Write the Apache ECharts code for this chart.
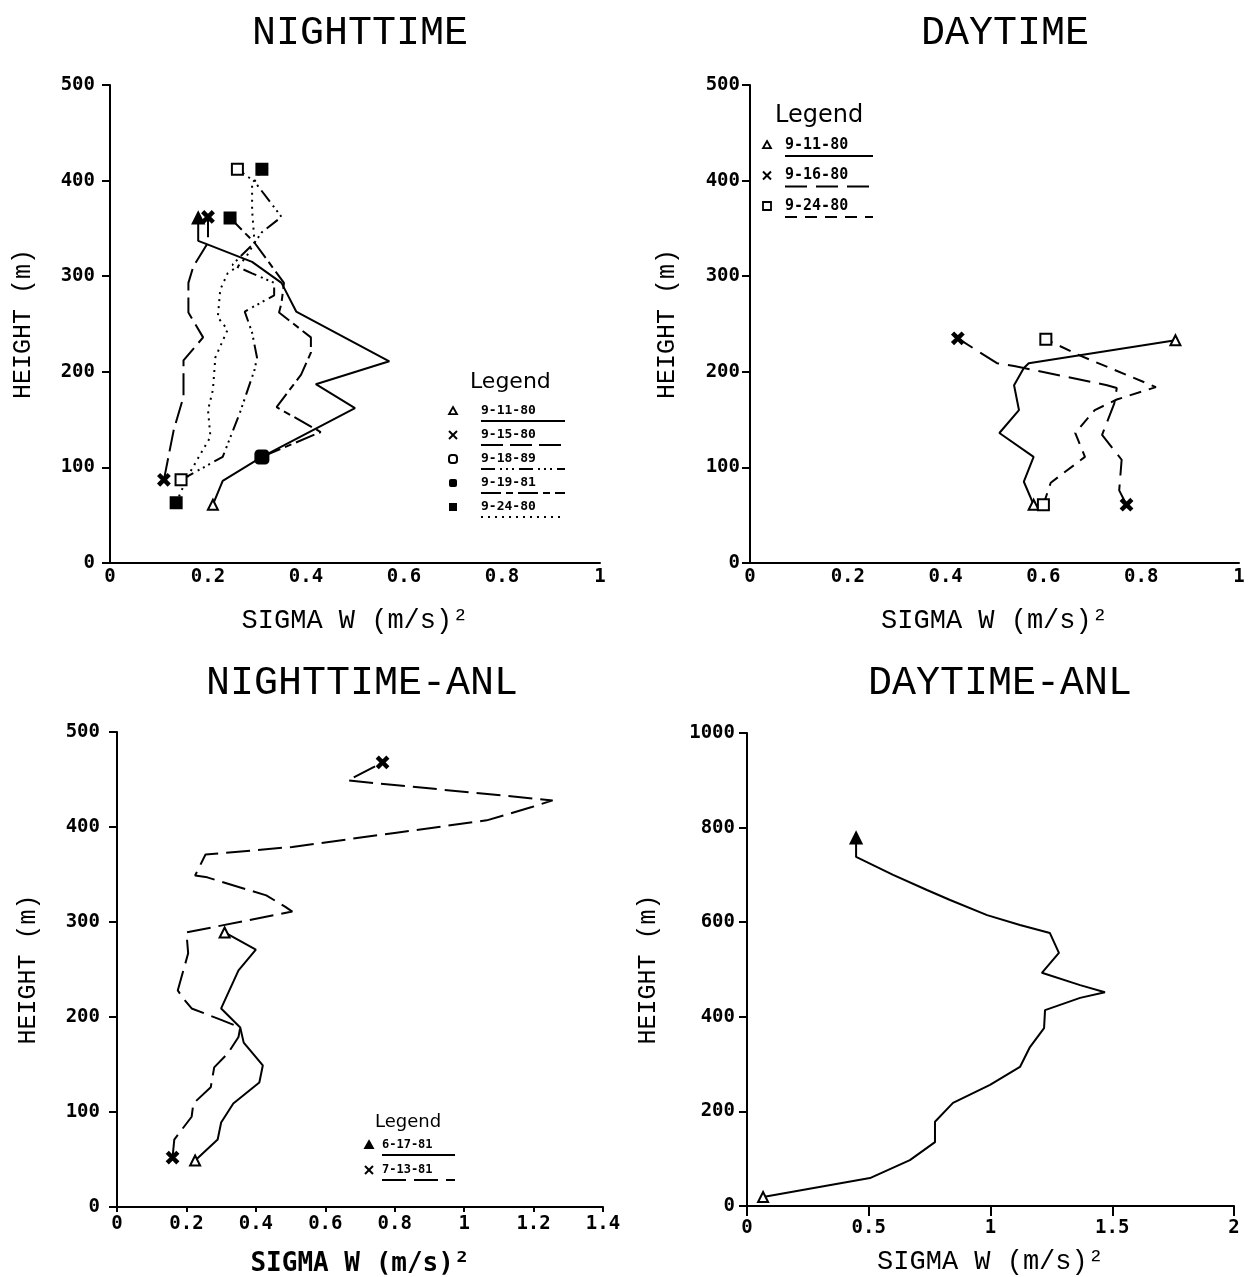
<!DOCTYPE html>
<html>
<head>
<meta charset="utf-8">
<script src="https://cdn.jsdelivr.net/npm/echarts@6/dist/echarts.min.js"></script>
<style>
html, body { margin: 0; padding: 0; background: #fff; }
#chart { width: 1253px; height: 1277px; }
</style>
</head>
<body>
<div id="chart"></div>
<script>
// ---------- NIGHTTIME profiles (sigma w, height in m), listed bottom to top ----------
const night0911Sigma = [0.21, 0.23, 0.31, 0.50, 0.42, 0.57, 0.38, 0.35, 0.29, 0.20, 0.18, 0.18];
const night0911Height = [61, 86, 111, 162, 187, 211, 263, 293, 315, 333, 337, 361];

const night0915Sigma = [0.11, 0.13, 0.15, 0.15, 0.19, 0.16, 0.16, 0.17, 0.20, 0.20];
const night0915Height = [87, 139, 174, 212, 236, 262, 293, 310, 335, 362];

const night0918Sigma = [0.145, 0.23, 0.265, 0.295, 0.30, 0.29, 0.275, 0.335, 0.335, 0.29, 0.25, 0.265, 0.295, 0.31, 0.35, 0.295, 0.26];
const night0918Height = [87, 111, 157, 202, 215, 241, 263, 280, 293, 303, 312, 320, 335, 346, 362, 399, 412];

const night0919Sigma = [0.31, 0.43, 0.34, 0.39, 0.41, 0.41, 0.345, 0.35, 0.355, 0.295, 0.245];
const night0919Height = [111, 137, 163, 197, 220, 236, 262, 272, 293, 335, 361];

const night0924Sigma = [0.135, 0.16, 0.205, 0.20, 0.21, 0.215, 0.24, 0.22, 0.225, 0.24, 0.265, 0.28, 0.295, 0.29, 0.29, 0.31];
const night0924Height = [63, 92, 132, 160, 181, 215, 244, 257, 286, 303, 312, 322, 335, 369, 395, 412];

// ---------- DAYTIME profiles ----------
const day0911Sigma = [0.58, 0.56, 0.58, 0.51, 0.55, 0.54, 0.56, 0.57, 0.87];
const day0911Height = [61, 85, 111, 136, 160, 186, 204, 209, 233];

const day0916Sigma = [0.77, 0.755, 0.76, 0.72, 0.745, 0.75, 0.73, 0.56, 0.54, 0.505, 0.425];
const day0916Height = [61, 76, 108, 134, 167, 183, 186, 204, 206, 209, 235];

const day0924Sigma = [0.60, 0.615, 0.685, 0.665, 0.705, 0.75, 0.83, 0.67, 0.605];
const day0924Height = [61, 84, 111, 136, 160, 171, 184, 218, 234];

// ---------- NIGHTTIME-ANL profiles ----------
const anlNight0617Sigma = [0.225, 0.29, 0.30, 0.335, 0.41, 0.42, 0.365, 0.355, 0.30, 0.35, 0.40, 0.31];
const anlNight0617Height = [49, 71, 89, 109, 131, 149, 173, 189, 209, 249, 271, 289];

const anlNight0713Sigma = [0.16, 0.165, 0.215, 0.22, 0.27, 0.28, 0.32, 0.35, 0.355, 0.30, 0.215, 0.19, 0.175, 0.205, 0.20, 0.505, 0.485, 0.43, 0.26, 0.225, 0.255, 0.505, 0.805, 1.065, 1.195, 1.255, 0.665, 0.765];
const anlNight0713Height = [52, 71, 95, 109, 126, 147, 162, 179, 189, 197, 209, 220, 228, 267, 289, 311, 316, 328, 347, 349, 371, 379, 394, 407, 421, 428, 449, 468];

// ---------- DAYTIME-ANL profile ----------
const anlDaySigma = [0.066, 0.505, 0.669, 0.772, 0.772, 0.846, 0.998, 1.121, 1.162, 1.22, 1.224, 1.368, 1.47, 1.368, 1.211, 1.281, 1.244, 1.121, 0.986, 0.834, 0.739, 0.60, 0.448, 0.448];
const anlDayHeight = [19, 59, 97, 135, 178, 218, 256, 294, 336, 376, 414, 440, 452, 467, 493, 535, 577, 594, 615, 647, 668, 700, 738, 778];

// ---------- axis ticks ----------
const nightTicksX = [0, 0.2, 0.4, 0.6, 0.8, 1];
const nightTicksY = [0, 100, 200, 300, 400, 500];
const dayTicksX = [0, 0.2, 0.4, 0.6, 0.8, 1];
const dayTicksY = [0, 100, 200, 300, 400, 500];
const anlNightTicksX = [0, 0.2, 0.4, 0.6, 0.8, 1, 1.2, 1.4];
const anlNightTicksY = [0, 100, 200, 300, 400, 500];
const anlDayTicksX = [0, 0.5, 1, 1.5, 2];
const anlDayTicksY = [0, 200, 400, 600, 800, 1000];

// ---------- titles and legend texts ----------
const panelTitles = ['NIGHTTIME', 'DAYTIME', 'NIGHTTIME-ANL', 'DAYTIME-ANL'];
const nightDates = ['9-11-80', '9-15-80', '9-18-89', '9-19-81', '9-24-80'];
const dayDates = ['9-11-80', '9-16-80', '9-24-80'];
const anlNightDates = ['6-17-81', '7-13-81'];

// ---------- styling ----------
const INK = '#000';
const MONO = 'DejaVu Sans Mono';
const THIN = 'Liberation Mono';
const CROSS = 'path://M0,1.6L1.6,0L5,3.4L8.4,0L10,1.6L6.6,5L10,8.4L8.4,10L5,6.6L1.6,10L0,8.4L3.4,5Z';
const MARKS = {
  triOpen: { symbol: 'triangle', size: 10, fill: '#fff' },
  triFill: { symbol: 'triangle', size: 11, fill: INK },
  cross:   { symbol: CROSS, size: 11, fill: INK },
  sqOpen:  { symbol: 'rect', size: 11, fill: '#fff' },
  sqFill:  { symbol: 'rect', size: 11, fill: INK },
  blob:    { symbol: 'roundRect', size: 13, fill: INK }
};
const DASH = {
  solid: 'solid',
  longDash: [22, 7],
  dashDots: [14, 5, 2, 4, 2, 4, 2, 5],
  longShort: [20, 5, 7, 5],
  dotted: [2, 5],
  dayLong: [22, 9],
  dayDash: [12, 8],
  anlLong: [24, 8]
};

function markItem(value, key) {
  const m = MARKS[key];
  return {
    value: value,
    symbol: m.symbol,
    symbolSize: m.size,
    itemStyle: { color: m.fill, borderColor: INK, borderWidth: 2 }
  };
}

function profile(grid, name, sigma, height, dash, startMark, endMark) {
  const last = sigma.length - 1;
  const data = sigma.map(function (s, i) {
    const v = [s, height[i]];
    if (i === 0) return markItem(v, startMark);
    if (i === last) return markItem(v, endMark);
    return { value: v, symbol: 'none' };
  });
  return {
    type: 'line',
    name: name,
    xAxisIndex: grid,
    yAxisIndex: grid,
    data: data,
    symbol: 'none',
    showSymbol: true,
    showAllSymbol: true,
    clip: false,
    silent: true,
    animation: false,
    lineStyle: { color: INK, width: 2, type: dash, cap: 'butt' },
    itemStyle: { color: INK }
  };
}

function plainNumber(v) { return String(v); }

function xAxis(grid, ticks, o) {
  return {
    type: 'value', gridIndex: grid,
    min: ticks[0], max: ticks[ticks.length - 1], interval: ticks[1] - ticks[0],
    axisLine: { onZero: false, lineStyle: { color: INK, width: 2 } },
    axisTick: { show: o.tick > 0, inside: false, length: o.tick, lineStyle: { color: INK, width: 2 } },
    axisLabel: { color: INK, fontFamily: MONO, fontWeight: 'bold', fontSize: 19, margin: o.labelMargin, formatter: plainNumber },
    splitLine: { show: false },
    name: 'SIGMA W (m/s)\u00B2',
    nameLocation: 'middle',
    nameGap: o.nameGap,
    nameTextStyle: { color: INK, fontFamily: o.nameWeight === 'bold' ? MONO : THIN, fontWeight: o.nameWeight, fontSize: o.nameSize }
  };
}

function yAxis(grid, ticks, o) {
  return {
    type: 'value', gridIndex: grid,
    min: ticks[0], max: ticks[ticks.length - 1], interval: ticks[1] - ticks[0],
    axisLine: { onZero: false, lineStyle: { color: INK, width: 2 } },
    axisTick: { show: true, inside: false, length: 8, lineStyle: { color: INK, width: 2 } },
    axisLabel: { color: INK, fontFamily: MONO, fontWeight: 'bold', fontSize: 19, margin: o.labelMargin, formatter: plainNumber },
    splitLine: { show: false },
    name: 'HEIGHT (m)',
    nameLocation: 'middle',
    nameRotate: 90,
    nameGap: o.nameGap,
    nameTextStyle: { color: INK, fontFamily: THIN, fontWeight: 'normal', fontSize: 25 }
  };
}

// Legend blocks: heading, then for each date a key glyph, the date and a rule in its line style
function keyGlyph(kind, cx, cy, r) {
  if (kind === 'tri' || kind === 'triFill') {
    return [{
      type: 'polygon', silent: true,
      shape: { points: [[cx, cy - r], [cx + r, cy + r * 0.8], [cx - r, cy + r * 0.8]] },
      style: { fill: kind === 'triFill' ? INK : '#fff', stroke: INK, lineWidth: 1.8 }
    }];
  }
  if (kind === 'cross') {
    return [
      { type: 'line', silent: true, shape: { x1: cx - r, y1: cy - r, x2: cx + r, y2: cy + r }, style: { stroke: INK, lineWidth: 2 } },
      { type: 'line', silent: true, shape: { x1: cx - r, y1: cy + r, x2: cx + r, y2: cy - r }, style: { stroke: INK, lineWidth: 2 } }
    ];
  }
  if (kind === 'ring') {
    return [{ type: 'rect', silent: true, shape: { x: cx - r, y: cy - r, width: 2 * r, height: 2 * r, r: r * 0.7 }, style: { fill: '#fff', stroke: INK, lineWidth: 2 } }];
  }
  if (kind === 'blob') {
    return [{ type: 'rect', silent: true, shape: { x: cx - r, y: cy - r, width: 2 * r, height: 2 * r, r: r * 0.5 }, style: { fill: INK } }];
  }
  if (kind === 'sqFill') {
    return [{ type: 'rect', silent: true, shape: { x: cx - r, y: cy - r, width: 2 * r, height: 2 * r }, style: { fill: INK } }];
  }
  return [{ type: 'rect', silent: true, shape: { x: cx - r, y: cy - r, width: 2 * r, height: 2 * r }, style: { fill: '#fff', stroke: INK, lineWidth: 1.8 } }];
}

function legendBlock(b) {
  const out = [{
    type: 'text', silent: true, x: b.headX, y: b.headY,
    style: { text: 'Legend', font: b.headFont, fill: INK, textVerticalAlign: 'middle', verticalAlign: 'middle' }
  }];
  b.dates.forEach(function (d, i) {
    const y = b.rowY + i * b.step;
    keyGlyph(b.keys[i], b.keyX, y, b.keyR).forEach(function (g) { out.push(g); });
    out.push({
      type: 'text', silent: true, x: b.textX, y: y,
      style: { text: d, font: b.textFont, fill: INK, textVerticalAlign: 'middle', verticalAlign: 'middle' }
    });
    const dash = b.dashes[i];
    out.push({
      type: 'line', silent: true,
      shape: { x1: b.textX, y1: y + b.ruleOffset, x2: b.ruleEnd, y2: y + b.ruleOffset },
      style: { stroke: INK, lineWidth: 2, lineDash: dash === 'solid' ? null : dash }
    });
  });
  return out;
}

const graphics = []
  .concat(legendBlock({
    headX: 470, headY: 382, headFont: '22px "DejaVu Sans"',
    keyX: 453, textX: 481, rowY: 411, step: 24, keyR: 4,
    textFont: 'bold 13px "DejaVu Sans Mono"', ruleOffset: 10, ruleEnd: 565,
    dates: nightDates,
    keys: ['tri', 'cross', 'ring', 'blob', 'sqFill'],
    dashes: [DASH.solid, DASH.longDash, DASH.dashDots, DASH.longShort, DASH.dotted]
  }))
  .concat(legendBlock({
    headX: 775, headY: 116, headFont: '24px "DejaVu Sans"',
    keyX: 767, textX: 785, rowY: 145, step: 30.5, keyR: 4,
    textFont: 'bold 15px "DejaVu Sans Mono"', ruleOffset: 11, ruleEnd: 873,
    dates: dayDates,
    keys: ['tri', 'cross', 'sq'],
    dashes: [DASH.solid, DASH.dayLong, DASH.dayDash]
  }))
  .concat(legendBlock({
    headX: 375, headY: 1122, headFont: '18px "DejaVu Sans"',
    keyX: 369, textX: 382, rowY: 1145, step: 25, keyR: 4,
    textFont: 'bold 12px "DejaVu Sans Mono"', ruleOffset: 10, ruleEnd: 455,
    dates: anlNightDates,
    keys: ['triFill', 'cross'],
    dashes: [DASH.solid, DASH.anlLong]
  }));

const titleStyle = { color: INK, fontFamily: THIN, fontWeight: 'normal', fontSize: 40 };

const option = {
  backgroundColor: '#fff',
  animation: false,
  title: [
    { text: panelTitles[0], left: 355, top: 8, textAlign: 'center', textStyle: titleStyle },
    { text: panelTitles[1], left: 1000, top: 8, textAlign: 'center', textStyle: titleStyle },
    { text: panelTitles[2], left: 357, top: 658, textAlign: 'center', textStyle: titleStyle },
    { text: panelTitles[3], left: 995, top: 658, textAlign: 'center', textStyle: titleStyle }
  ],
  grid: [
    { left: 110, top: 85, width: 490, height: 478, containLabel: false, outerBoundsMode: 'none' },
    { left: 750, top: 85, width: 489, height: 478, containLabel: false, outerBoundsMode: 'none' },
    { left: 117, top: 732, width: 486, height: 475, containLabel: false, outerBoundsMode: 'none' },
    { left: 747, top: 733, width: 487, height: 473, containLabel: false, outerBoundsMode: 'none' }
  ],
  xAxis: [
    xAxis(0, nightTicksX, { tick: 0, labelMargin: 5, nameGap: 44, nameSize: 27, nameWeight: 'normal' }),
    xAxis(1, dayTicksX, { tick: 0, labelMargin: 5, nameGap: 44, nameSize: 27, nameWeight: 'normal' }),
    xAxis(2, anlNightTicksX, { tick: 5, labelMargin: 8, nameGap: 44, nameSize: 26, nameWeight: 'bold' }),
    xAxis(3, anlDayTicksX, { tick: 10, labelMargin: 13, nameGap: 42, nameSize: 27, nameWeight: 'normal' })
  ],
  yAxis: [
    yAxis(0, nightTicksY, { labelMargin: 15, nameGap: 74 }),
    yAxis(1, dayTicksY, { labelMargin: 10, nameGap: 70 }),
    yAxis(2, anlNightTicksY, { labelMargin: 17, nameGap: 76 }),
    yAxis(3, anlDayTicksY, { labelMargin: 12, nameGap: 86 })
  ],
  graphic: { elements: graphics },
  series: [
    profile(0, nightDates[0], night0911Sigma, night0911Height, DASH.solid, 'triOpen', 'triFill'),
    profile(0, nightDates[1], night0915Sigma, night0915Height, DASH.longDash, 'cross', 'cross'),
    profile(0, nightDates[2], night0918Sigma, night0918Height, DASH.dashDots, 'sqOpen', 'sqOpen'),
    profile(0, nightDates[3], night0919Sigma, night0919Height, DASH.longShort, 'blob', 'sqFill'),
    profile(0, nightDates[4], night0924Sigma, night0924Height, DASH.dotted, 'sqFill', 'sqFill'),

    profile(1, dayDates[0], day0911Sigma, day0911Height, DASH.solid, 'triOpen', 'triOpen'),
    profile(1, dayDates[1], day0916Sigma, day0916Height, DASH.dayLong, 'cross', 'cross'),
    profile(1, dayDates[2], day0924Sigma, day0924Height, DASH.dayDash, 'sqOpen', 'sqOpen'),

    profile(2, anlNightDates[0], anlNight0617Sigma, anlNight0617Height, DASH.solid, 'triOpen', 'triOpen'),
    profile(2, anlNightDates[1], anlNight0713Sigma, anlNight0713Height, DASH.anlLong, 'cross', 'cross'),

    profile(3, 'DAYTIME-ANL', anlDaySigma, anlDayHeight, DASH.solid, 'triOpen', 'triFill')
  ]
};

const chart = echarts.init(document.getElementById('chart'), null, { renderer: 'canvas' });
chart.setOption(option);
</script>
</body>
</html>
